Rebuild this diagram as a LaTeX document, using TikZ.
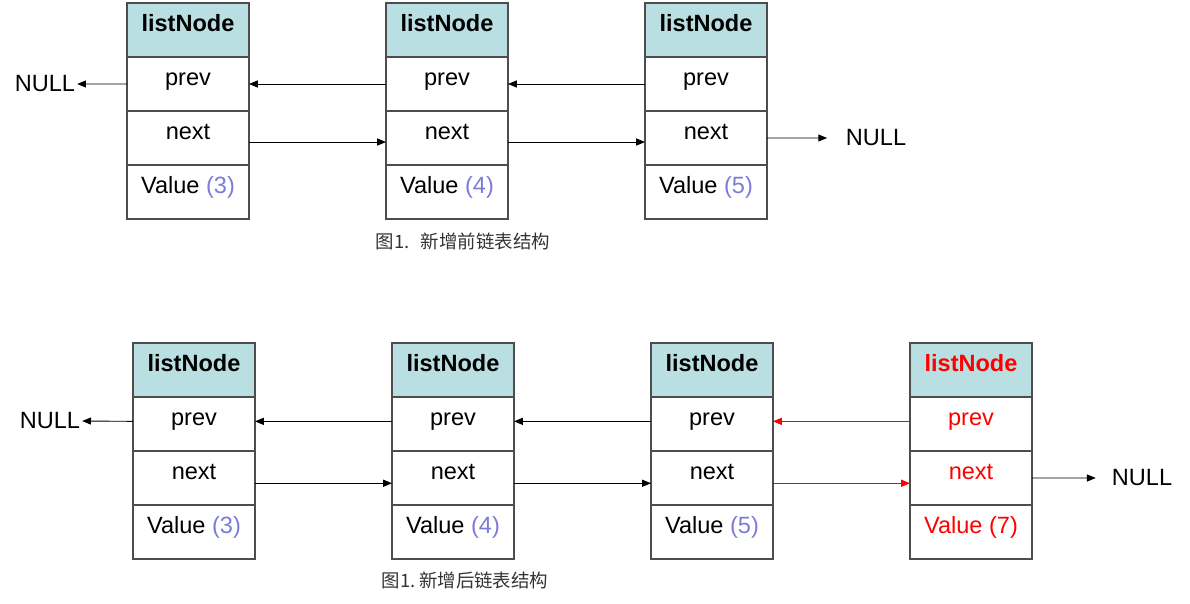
\documentclass[tikz,border=0pt]{standalone}
\usepackage{fontspec}
\setmainfont{Liberation Sans}
\newfontfamily\cjk{Noto Sans CJK SC}
\usetikzlibrary{positioning,arrows.meta}
\definecolor{chead}{HTML}{B9DFE2}
\definecolor{cval}{HTML}{7B7BD9}
\definecolor{cred}{HTML}{FF0000}
\definecolor{cline}{HTML}{4D4D4D}
\definecolor{ccap}{HTML}{333333}
\begin{document}
\begin{tikzpicture}[x=0.02cm, y=-0.02cm,
    every node/.style={font=\fontsize{13.4}{15}\selectfont},
    cellbox/.style={draw=cline, line width=0.8pt, minimum width=2.44cm, minimum height=1.08cm,
      inner sep=0pt, outer sep=0pt, text height=8pt, text depth=6pt},
    headbox/.style={cellbox, fill=chead, font=\fontsize{13.4}{15}\selectfont\bfseries},
    nullnode/.style={inner sep=1pt},
    link/.style={-{Triangle[length=5pt,width=4pt]}, line width=0.5pt},
    caption/.style={font=\cjk\fontsize{10.5}{12}\selectfont, text=ccap}]
  \useasboundingbox (0,0) rectangle (1190,604);
  % list nodes, before and after the insert
  \foreach \name/\x/\y/\v in {a1/188/30/3, a2/447/30/4, a3/706/30/5,
                              b1/194/370/3, b2/453/370/4, b3/712/370/5} {
    \node[headbox] (\name-h) at (\x,\y) {listNode};
    \node[cellbox, below=0pt of \name-h] (\name-p) {prev};
    \node[cellbox, below=0pt of \name-p] (\name-n) {next};
    \node[cellbox, below=0pt of \name-n] (\name-v) {Value \textcolor{cval}{(\v)}};
  }
  % the new node
  \node[headbox, text=cred] (b4-h) at (971,370) {listNode};
  \node[cellbox, text=cred, below=0pt of b4-h] (b4-p) {prev};
  \node[cellbox, text=cred, below=0pt of b4-p] (b4-n) {next};
  \node[cellbox, text=cred, below=0pt of b4-n] (b4-v) {Value (7)};
  % links of the first list
  \node[nullnode] (null-a1) at (45,84) {NULL};
  \node[nullnode] (null-a3) at (876,138) {NULL};
  \draw[link] (a1-p.west) -- (null-a1.east);
  \draw[link] (a2-p.west) -- (a1-p.east);
  \draw[link] (a3-p.west) -- (a2-p.east);
  \draw[link] ([yshift=-2.3pt]a1-n.east) -- ([yshift=-2.3pt]a2-n.west);
  \draw[link] ([yshift=-2.3pt]a2-n.east) -- ([yshift=-2.3pt]a3-n.west);
  \draw[link, shorten >=9.5pt] (a3-n.east) -- (null-a3.west);
  \node[caption] (cap-a) at (463,241) {图1.\hspace{0.6em}新增前链表结构};
  % links of the second list
  \node[nullnode] (null-b1) at (50,421) {NULL};
  \node[nullnode] (null-b4) at (1142,478) {NULL};
  \draw[link] ([yshift=1.5pt]b1-p.west) -- (null-b1.east);
  \draw[link] ([yshift=1.5pt]b2-p.west) -- ([yshift=1.5pt]b1-p.east);
  \draw[link] ([yshift=1.5pt]b3-p.west) -- ([yshift=1.5pt]b2-p.east);
  \draw[link, cred] ([yshift=1.5pt]b4-p.west) -- ([yshift=1.5pt]b3-p.east);
  \draw[link] ([yshift=-3pt]b1-n.east) -- ([yshift=-3pt]b2-n.west);
  \draw[link] ([yshift=-3pt]b2-n.east) -- ([yshift=-3pt]b3-n.west);
  \draw[link, cred] ([yshift=-3pt]b3-n.east) -- ([yshift=-3pt]b4-n.west);
  \draw[link, shorten >=8pt] (b4-n.east) -- (null-b4.west);
  \node[caption] (cap-b) at (465,580) {图1.\hspace{0.2em}新增后链表结构};
\end{tikzpicture}
\end{document}
